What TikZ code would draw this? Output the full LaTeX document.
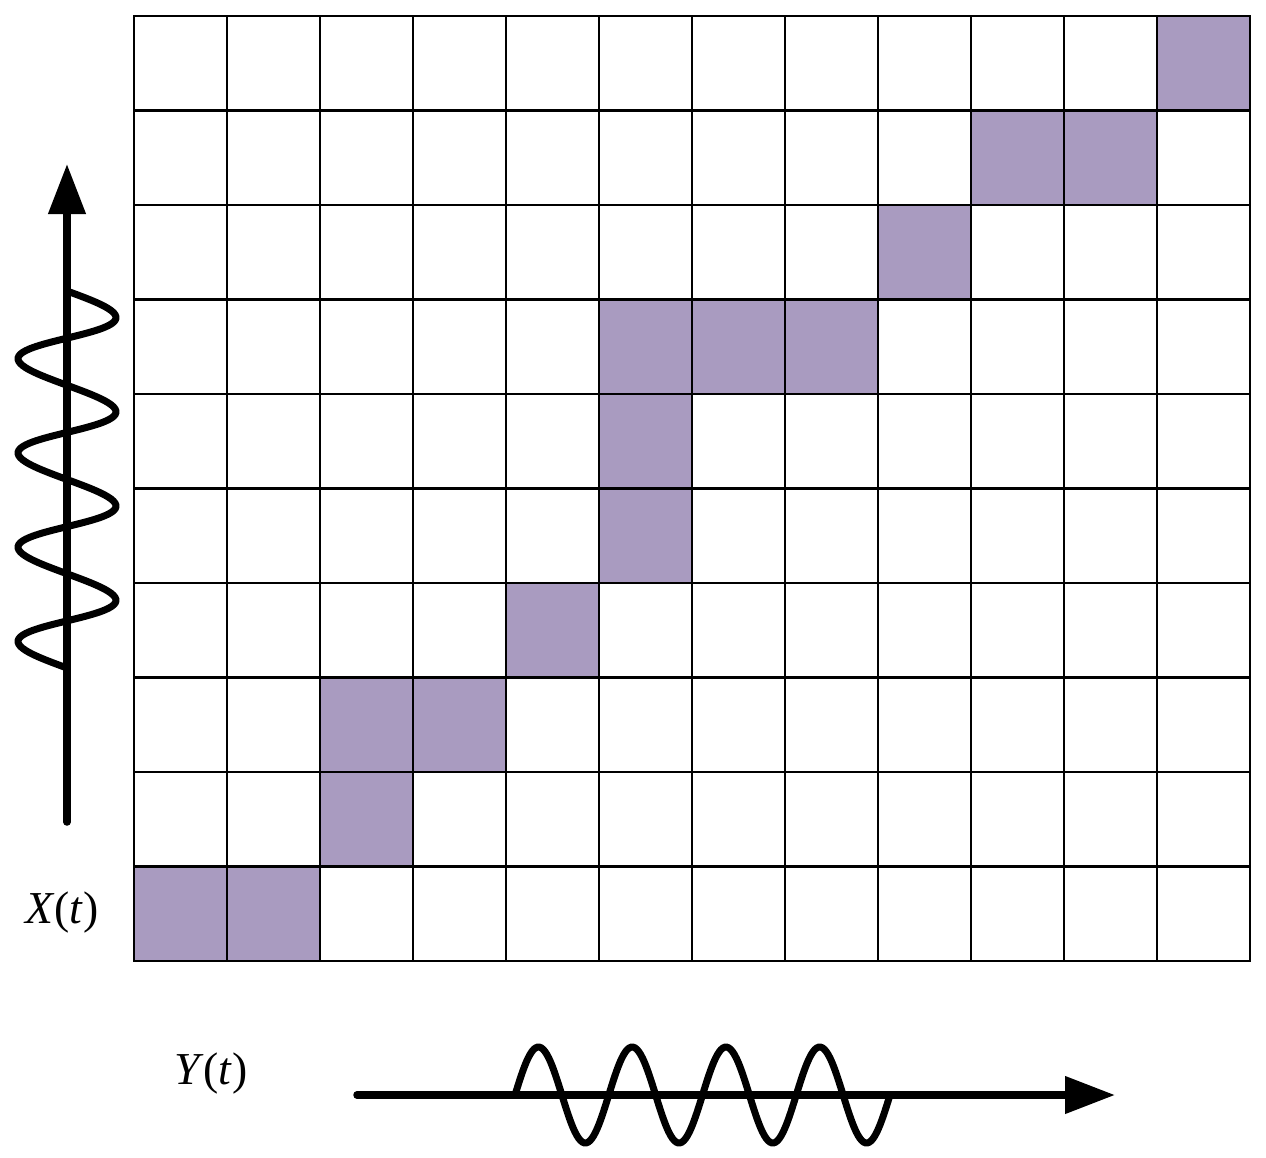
\documentclass[tikz,border=0pt]{standalone}
\usepackage{fontspec}
\setmainfont{Liberation Serif}
\usetikzlibrary{arrows.meta, calc}
\definecolor{cellpurple}{RGB}{169,155,192}
\tikzstyle{cell} = [draw=black, line width=0.5mm, line cap=rect]
\tikzstyle{marked} = [fill=cellpurple]
\tikzstyle{axis} = [line width=1.5mm, line cap=round, -{Triangle[length=10mm,width=7.2mm]}]
\tikzstyle{wave} = [line width=1.4mm, line cap=round]
\tikzstyle{lbl} = [font=\fontsize{26}{31}\selectfont]

\begin{document}
\begin{tikzpicture}[x=0.2mm, y=-0.2mm]
    \useasboundingbox (0,0) rectangle (1266,1157);
    % marked cells (column/row)
    \foreach \c/\r in {11/0, 9/1, 10/1, 8/2, 5/3, 6/3, 7/3, 5/4, 5/5, 4/6, 2/7, 3/7, 2/8, 0/9, 1/9}
        \fill[marked] (134+93*\c, 16+94.5*\r) rectangle +(93, 94.5);
    \foreach \c in {0,...,12}
        \draw[cell] (134+93*\c, 16) -- (134+93*\c, 961);
    \foreach \r in {0,...,10}
        \draw[cell] (134, 16+94.5*\r) -- (1250, 16+94.5*\r);
    % signals
    \draw[wave] plot[domain=0:4, samples=201, smooth] ({67+49*sin(360*\x)}, {291+94.25*\x+3*sin(360*\x)});
    \draw[wave] plot[domain=0:4, samples=201, smooth] ({515+93.75*\x}, {1095-48*sin(360*\x)});
    \coordinate (xfrom) at (67, 822);
    \coordinate (xto) at (67, 164);
    \coordinate (yfrom) at (357, 1095);
    \coordinate (yto) at (1115, 1095);
    \draw[axis] (xfrom) -- (xto);
    \draw[axis] (yfrom) -- (yto);
    \node[lbl] (xlabel) at (62, 912) {\textit{X}(\textit{t})};
    \node[lbl] (ylabel) at (211, 1073) {\textit{Y}(\textit{t})};
\end{tikzpicture}
\end{document}
